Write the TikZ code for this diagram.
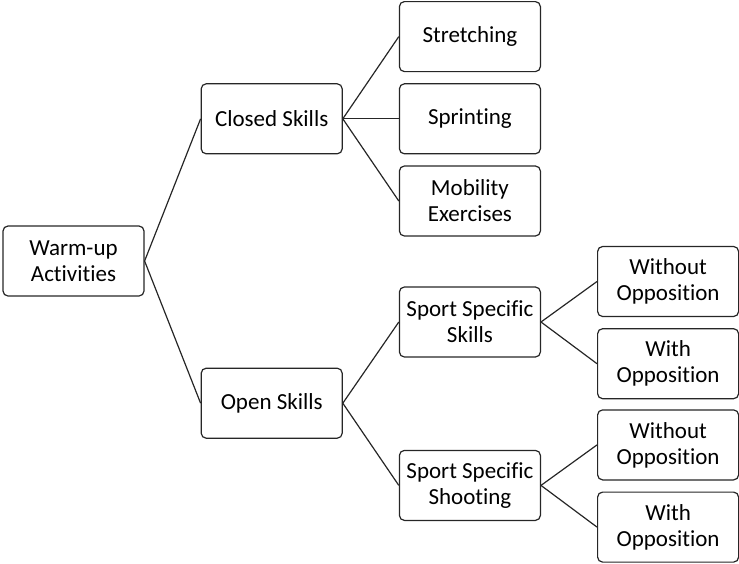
\documentclass[tikz,border=0pt]{standalone}
\usepackage{fontspec}
\setmainfont[Ligatures=NoCommon]{Carlito}
\usetikzlibrary{positioning}

\tikzset{
  skill/.style={draw=black!85, line width=1.2pt, rounded corners=5pt,
    minimum width=141pt, minimum height=70pt, inner sep=2pt, align=center,
    font=\fontsize{23}{26}\selectfont},
  link/.style={draw=black!85, line width=1.2pt}
}

\begin{document}
\begin{tikzpicture}[x=1pt, y=1pt]
  \useasboundingbox (0,0) rectangle (739,-563);

  \node[skill] (warm) at (73.5,-261) {Warm-up\\Activities};
  \node[skill, above right=71pt and 56pt of warm] (closed) {Closed Skills};
  \node[skill, below right=71pt and 56pt of warm] (open) {Open Skills};

  % closed skills
  \node[skill, right=56pt of closed] (sprint) {Sprinting};
  \node[skill, above=11pt of sprint] (stretch) {Stretching};
  \node[skill, below=11pt of sprint] (mobil) {Mobility\\Exercises};

  % open skills
  \node[skill, above right=10pt and 56pt of open] (sskill) {Sport Specific\\Skills};
  \node[skill, below right=11pt and 56pt of open] (sshoot) {Sport Specific\\Shooting};

  \node[skill, right=56pt of sskill, yshift=40.5pt] (woA) {Without\\Opposition};
  \node[skill, below=11pt of woA] (wA) {With\\Opposition};
  \node[skill, right=56pt of sshoot, yshift=40.5pt] (woB) {Without\\Opposition};
  \node[skill, below=11pt of woB] (wB) {With\\Opposition};

  \draw[link] (warm.east) -- (closed.west);
  \draw[link] (warm.east) -- (open.west);
  \draw[link] (closed.east) -- (stretch.west);
  \draw[link] (closed.east) -- (sprint.west);
  \draw[link] (closed.east) -- (mobil.west);
  \draw[link] (open.east) -- (sskill.west);
  \draw[link] (open.east) -- (sshoot.west);
  \draw[link] (sskill.east) -- (woA.west);
  \draw[link] (sskill.east) -- (wA.west);
  \draw[link] (sshoot.east) -- (woB.west);
  \draw[link] (sshoot.east) -- (wB.west);
\end{tikzpicture}
\end{document}
